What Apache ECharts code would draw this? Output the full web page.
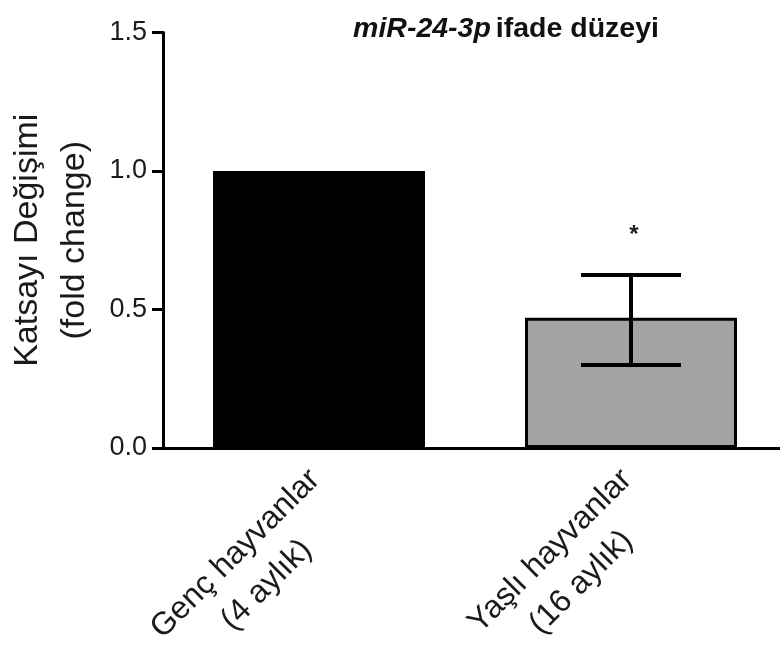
<!DOCTYPE html>
<html>
<head>
<meta charset="utf-8">
<script src="https://cdn.jsdelivr.net/npm/echarts@6/dist/echarts.min.js"></script>
<style>html,body{margin:0;padding:0;background:#fff}#c{width:780px;height:653px}</style>
</head>
<body>
<div id="c"></div>
<script>
var categories = ['Genç hayvanlar', 'Yaşlı hayvanlar'];
var subLabels = ['(4 aylık)', '(16 aylık)'];
var means = [1.0, 0.47];
var errLow = [null, 0.30];
var errHigh = [null, 0.625];
var sigMarks = ['', '*'];
var yTicks = [0, 0.5, 1.0, 1.5];
var barColors = ['#000000', '#a3a3a3'];

var FONT = '"Liberation Sans", Arial, sans-serif';
var chart = echarts.init(document.getElementById('c'));

var labelMap = {};
categories.forEach(function (c, i) { labelMap[c] = subLabels[i]; });

chart.setOption({
  animation: false,
  backgroundColor: '#ffffff',
  title: {
    text: '{i|miR-24-3p} {b|ifade düzeyi}',
    left: 501, top: 10, textAlign: 'center',
    textStyle: {
      rich: {
        i: { fontFamily: FONT, fontSize: 28.5, fontWeight: 'bold', fontStyle: 'italic', color: '#111' },
        b: { fontFamily: FONT, fontSize: 28.5, fontWeight: 'bold', color: '#111' }
      }
    }
  },
  grid: { left: 163, top: 32.5, height: 415.5, width: 624, containLabel: false, outerBoundsMode: 'none' },
  xAxis: {
    type: 'category',
    data: categories,
    axisLine: { lineStyle: { color: '#000', width: 3 } },
    axisTick: { alignWithLabel: true, length: 12, lineStyle: { color: '#000', width: 3 } },
    axisLabel: {
      rotate: 45, margin: 31, interval: 0,
      formatter: function (v) { return '{s| }\n{a|' + v + '}\n{b|' + labelMap[v] + '}'; },
      rich: {
        s: { fontFamily: FONT, fontSize: 10, lineHeight: 34, align: 'center' },
        a: { fontFamily: FONT, fontSize: 32, color: '#1a1a1a', align: 'center', lineHeight: 42 },
        b: { fontFamily: FONT, fontSize: 32, color: '#1a1a1a', align: 'center', lineHeight: 46 }
      }
    }
  },
  yAxis: {
    type: 'value', min: 0, max: 1.5, interval: 0.5,
    name: 'Katsayı Değişimi\n(fold change)',
    nameLocation: 'middle', nameGap: 64, nameRotate: 90,
    nameTextStyle: { fontFamily: FONT, fontSize: 34, color: '#1a1a1a', lineHeight: 47 },
    splitLine: { show: false },
    axisLine: { show: true, lineStyle: { color: '#000', width: 3 } },
    axisTick: { show: true, length: 11, lineStyle: { color: '#000', width: 3 } },
    axisLabel: {
      margin: 16, fontFamily: FONT, fontSize: 27, color: '#1a1a1a',
      formatter: function (v) { return v.toFixed(1); }
    }
  },
  series: [
    {
      type: 'bar',
      barWidth: 212,
      data: means.map(function (v, i) {
        return { value: v, itemStyle: { color: barColors[i], borderColor: '#000', borderWidth: 3 } };
      }),
      z: 2
    },
    {
      type: 'custom',
      z: 5,
      data: categories.map(function (c, i) { return [i, errLow[i], errHigh[i]]; }),
      renderItem: function (params, api) {
        var i = api.value(0);
        var children = [];
        var lo = errLow[i], hi = errHigh[i];
        var capW = 100;
        if (lo != null && hi != null) {
          var pL = api.coord([i, lo]);
          var pH = api.coord([i, hi]);
          var st = { stroke: '#000', lineWidth: 4 };
          children.push({ type: 'line', shape: { x1: pL[0], y1: pL[1], x2: pH[0], y2: pH[1] }, style: st });
          children.push({ type: 'line', shape: { x1: pL[0] - capW / 2, y1: pL[1], x2: pL[0] + capW / 2, y2: pL[1] }, style: st });
          children.push({ type: 'line', shape: { x1: pH[0] - capW / 2, y1: pH[1], x2: pH[0] + capW / 2, y2: pH[1] }, style: st });
        }
        if (sigMarks[i]) {
          var top = api.coord([i, hi != null ? hi : means[i]]);
          children.push({
            type: 'text',
            style: { text: sigMarks[i], x: top[0] + 3, y: top[1] - 40, textAlign: 'center', textVerticalAlign: 'middle',
              font: 'bold 24px ' + FONT, fill: '#222' }
          });
        }
        return { type: 'group', children: children };
      }
    }
  ]
});
</script>
</body>
</html>
